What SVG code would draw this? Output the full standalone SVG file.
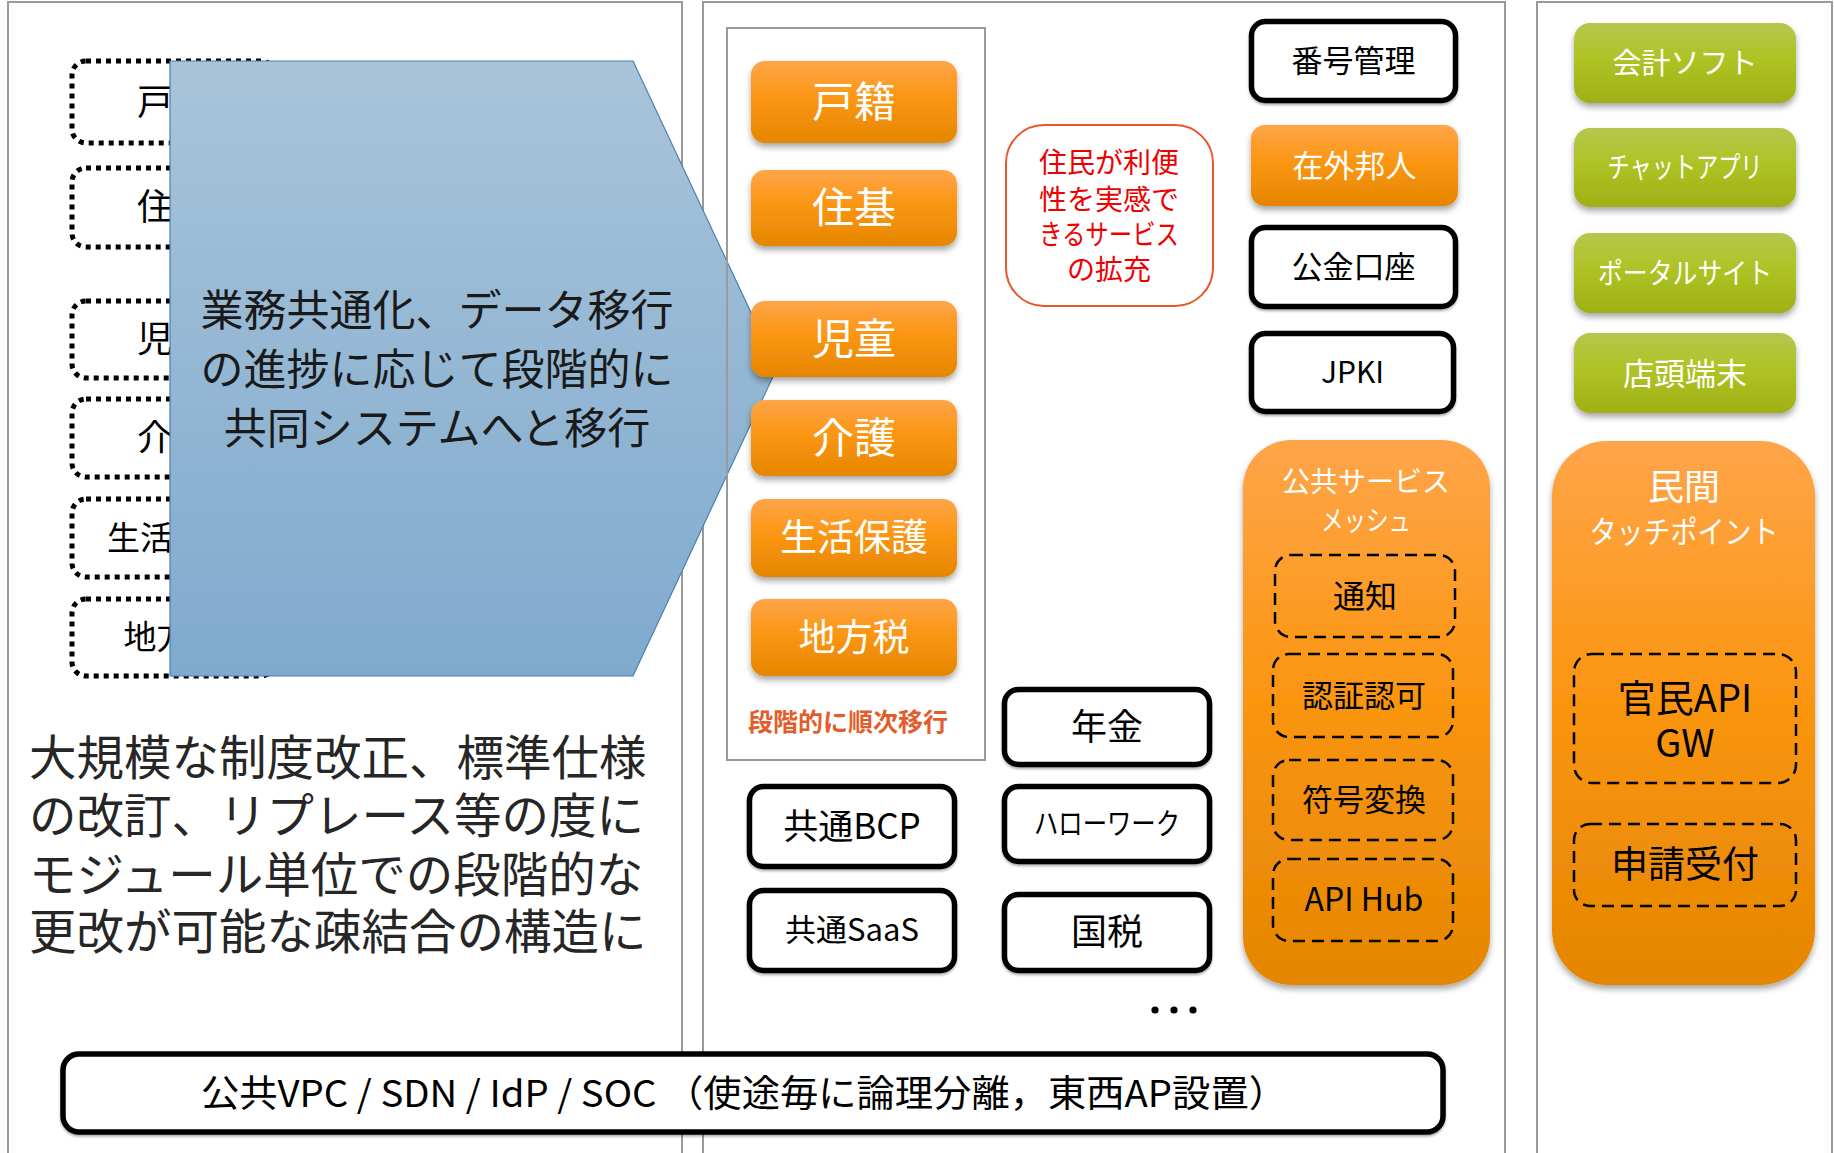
<svg xmlns="http://www.w3.org/2000/svg" width="1834" height="1153" viewBox="0 0 1834 1153">
<defs>
<linearGradient id="gOrange" x1="0" y1="0" x2="0" y2="1">
<stop offset="0" stop-color="#ffa54a"/>
<stop offset="0.45" stop-color="#fb9612"/>
<stop offset="1" stop-color="#e58600"/>
</linearGradient>
<linearGradient id="gGreen" x1="0" y1="0" x2="0" y2="1">
<stop offset="0" stop-color="#b7c64e"/>
<stop offset="0.45" stop-color="#aec324"/>
<stop offset="1" stop-color="#9fb016"/>
</linearGradient>
<linearGradient id="gBlue" x1="0" y1="0" x2="0" y2="1">
<stop offset="0" stop-color="#a9c4d9"/>
<stop offset="1" stop-color="#7faace"/>
</linearGradient>
<filter id="shadow" x="-10%" y="-10%" width="120%" height="130%">
<feDropShadow dx="0" dy="4" stdDeviation="3" flood-color="#000" flood-opacity="0.35"/>
</filter>
<filter id="bshadow" x="-10%" y="-10%" width="120%" height="130%">
<feDropShadow dx="0" dy="2" stdDeviation="1.2" flood-color="#000" flood-opacity="0.3"/>
</filter>
<style>
text{font-family:"Noto Sans CJK JP","Noto Sans",sans-serif;text-anchor:middle}
.panel{fill:#fff;stroke:#9a9a9a;stroke-width:2}
.dot{fill:none;stroke:#000;stroke-width:5;stroke-dasharray:5 5}
.orange{fill:url(#gOrange);filter:url(#shadow)}
.green{fill:url(#gGreen);filter:url(#shadow)}
.blk{fill:#fff;stroke:#000;stroke-width:5.5;filter:url(#bshadow)}
.dash{fill:none;stroke:#000;stroke-width:2.5;stroke-dasharray:12 7}
.w{fill:#fff}
.k{fill:#000}
</style>
</defs>
<rect width="1834" height="1153" fill="#fff"/>
<g id="panels">
<rect class="panel" x="8" y="2" width="674" height="1170"/>
<rect class="panel" x="703" y="2" width="802" height="1170"/>
<rect class="panel" x="1537" y="2" width="295" height="1170"/>
</g>
<g id="legacy">
<g id="old-koseki"><rect class="dot" x="72" y="61" width="203" height="82" rx="14"/><text x="173" y="115" font-size="36" class="k">戸籍</text></g>
<g id="old-juki"><rect class="dot" x="72" y="168" width="203" height="79" rx="14"/><text x="173" y="220" font-size="36" class="k">住基</text></g>
<g id="old-jido"><rect class="dot" x="72" y="301" width="203" height="77" rx="14"/><text x="173" y="352" font-size="36" class="k">児童</text></g>
<g id="old-kaigo"><rect class="dot" x="72" y="399" width="203" height="78" rx="14"/><text x="173" y="451" font-size="36" class="k">介護</text></g>
<g id="old-seikatsu"><rect class="dot" x="72" y="499" width="203" height="78" rx="14"/><text x="173" y="550" font-size="33" class="k">生活保護</text></g>
<g id="old-chihouzei"><rect class="dot" x="72" y="599" width="203" height="77" rx="14"/><text x="173" y="649" font-size="33" class="k">地方税</text></g>
</g>
<g id="migration-arrow">
<polygon points="170,61 633,61 777,368 633,676 170,676" fill="url(#gBlue)" stroke="#4a7fb0" stroke-width="1.2"/>
<text x="437" y="326" font-size="43" fill="#1a1a1a">業務共通化、データ移行</text>
<text x="437" y="385" font-size="43" fill="#1a1a1a">の進捗に応じて段階的に</text>
<text x="437" y="444" font-size="43" fill="#1a1a1a">共同システムへと移行</text>
</g>
<g id="left-note" fill="#262626">
<text x="29" y="775" font-size="47.5" style="text-anchor:start">大規模な制度改正、標準仕様</text>
<text x="29" y="833" font-size="47.5" style="text-anchor:start">の改訂、リプレース等の度に</text>
<text x="29" y="892" font-size="47.5" style="text-anchor:start">モジュール単位での段階的な</text>
<text x="29" y="949" font-size="47.5" style="text-anchor:start">更改が可能な疎結合の構造に</text>
</g>
<g id="shared-system">
<rect x="727" y="28" width="258" height="732" fill="none" stroke="#9a9a9a" stroke-width="2"/>
<g id="koseki"><rect class="orange" x="751" y="61" width="206" height="82" rx="14"/><text x="854" y="117" font-size="42" class="w">戸籍</text></g>
<g id="juki"><rect class="orange" x="751" y="170" width="206" height="76" rx="14"/><text x="854" y="223" font-size="42" class="w">住基</text></g>
<g id="jido"><rect class="orange" x="751" y="301" width="206" height="76" rx="14"/><text x="854" y="354" font-size="42" class="w">児童</text></g>
<g id="kaigo"><rect class="orange" x="751" y="400" width="206" height="76" rx="14"/><text x="854" y="453" font-size="42" class="w">介護</text></g>
<g id="seikatsu"><rect class="orange" x="751" y="499" width="206" height="78" rx="14"/><text x="854" y="551" font-size="37" class="w">生活保護</text></g>
<g id="chihouzei"><rect class="orange" x="751" y="599" width="206" height="77" rx="14"/><text x="854" y="651" font-size="37" class="w">地方税</text></g>
<text x="848" y="731" font-size="25" font-weight="bold" fill="#e35d2a">段階的に順次移行</text>
</g>
<g id="benefit">
<rect x="1006" y="125" width="207" height="181" rx="38" fill="#fff" stroke="#e8572a" stroke-width="2"/>
<text x="1109" y="173" font-size="28" fill="#ee0000">住民が利便</text>
<text x="1109" y="210" font-size="28" fill="#ee0000">性を実感で</text>
<text x="1109" y="245" font-size="28" fill="#ee0000" textLength="140" lengthAdjust="spacingAndGlyphs">きるサービス</text>
<text x="1109" y="280" font-size="28" fill="#ee0000">の拡充</text>
</g>
<g id="bango"><rect class="blk" x="1251.5" y="21.5" width="204" height="79" rx="14"/><text x="1353.5" y="72" font-size="31" class="k">番号管理</text></g>
<g id="zaigai"><rect class="orange" x="1251" y="125" width="207" height="81" rx="14"/><text x="1354.5" y="177" font-size="31" class="w">在外邦人</text></g>
<g id="kokin"><rect class="blk" x="1251.5" y="227.5" width="204" height="79" rx="14"/><text x="1353.5" y="278" font-size="31" class="k">公金口座</text></g>
<g id="jpki"><rect class="blk" x="1251.5" y="333.5" width="202" height="78" rx="14"/><text x="1352.5" y="383" font-size="30" class="k">JPKI</text></g>
<g id="nenkin"><rect class="blk" x="1004.5" y="689.5" width="205" height="75" rx="14"/><text x="1107" y="740" font-size="36" class="k">年金</text></g>
<g id="bcp"><rect class="blk" x="749.5" y="786.5" width="205" height="80" rx="14"/><text x="852" y="839" font-size="35" class="k">共通BCP</text></g>
<g id="hellowork"><rect class="blk" x="1004.5" y="786.5" width="205" height="75" rx="14"/><text x="1107" y="834" font-size="30" class="k" textLength="146" lengthAdjust="spacingAndGlyphs">ハローワーク</text></g>
<g id="saas"><rect class="blk" x="749.5" y="890.5" width="205" height="80" rx="14"/><text x="852" y="941" font-size="31" class="k">共通SaaS</text></g>
<g id="kokuzei"><rect class="blk" x="1004.5" y="894.5" width="205" height="76" rx="14"/><text x="1107" y="945" font-size="36" class="k">国税</text></g>
<g id="ellipsis" fill="#000">
<circle cx="1155" cy="1010" r="3.6"/><circle cx="1174" cy="1010" r="3.6"/><circle cx="1193" cy="1010" r="3.6"/>
</g>
<g id="mesh">
<rect class="orange" x="1243" y="440" width="247" height="545" rx="48"/>
<text x="1366" y="492" font-size="28" class="w">公共サービス</text>
<text x="1366" y="531" font-size="28" class="w" textLength="90" lengthAdjust="spacingAndGlyphs">メッシュ</text>
<g id="tsuchi"><rect class="dash" x="1275" y="555" width="180" height="82" rx="16"/><text x="1365" y="608" font-size="32" class="k">通知</text></g>
<g id="ninsho"><rect class="dash" x="1273" y="654" width="180" height="83" rx="16"/><text x="1364" y="707" font-size="31" class="k">認証認可</text></g>
<g id="fugo"><rect class="dash" x="1273" y="760" width="180" height="80" rx="16"/><text x="1364" y="811" font-size="31" class="k">符号変換</text></g>
<g id="apihub"><rect class="dash" x="1273" y="859" width="180" height="82" rx="16"/><text x="1364" y="911" font-size="32" class="k">API Hub</text></g>
</g>
<g id="green">
<g id="kaikei"><rect class="green" x="1574" y="23" width="222" height="80" rx="16"/><text x="1685" y="74" font-size="29" class="w">会計ソフト</text></g>
<g id="chat"><rect class="green" x="1574" y="128" width="222" height="79" rx="16"/><text x="1685" y="178" font-size="29" class="w" textLength="155" lengthAdjust="spacingAndGlyphs">チャットアプリ</text></g>
<g id="portal"><rect class="green" x="1574" y="233" width="222" height="80" rx="16"/><text x="1685" y="284" font-size="29" class="w" textLength="174" lengthAdjust="spacingAndGlyphs">ポータルサイト</text></g>
<g id="tento"><rect class="green" x="1574" y="333" width="222" height="80" rx="16"/><text x="1685" y="385" font-size="31" class="w">店頭端末</text></g>
</g>
<g id="minkan">
<rect class="orange" x="1552" y="441" width="263" height="544" rx="55"/>
<text x="1684" y="500" font-size="36" class="w">民間</text>
<text x="1684" y="543" font-size="31" class="w" textLength="189" lengthAdjust="spacingAndGlyphs">タッチポイント</text>
<g id="apigw"><rect class="dash" x="1574" y="654" width="222" height="129" rx="18"/><text x="1685" y="712" font-size="38" class="k">官民API</text><text x="1685" y="757" font-size="38" class="k">GW</text></g>
<g id="shinsei"><rect class="dash" x="1574" y="824" width="222" height="82" rx="16"/><text x="1685" y="878" font-size="37" class="k">申請受付</text></g>
</g>
<g id="infra">
<rect class="blk" x="63" y="1054" width="1380" height="78" rx="16" stroke-width="6"/>
<text x="744" y="1107" font-size="37" class="k" textLength="1086" lengthAdjust="spacingAndGlyphs">公共VPC / SDN / IdP / SOC （使途毎に論理分離，東西AP設置）</text>
</g>
<g id="connectors"/>
</svg>
